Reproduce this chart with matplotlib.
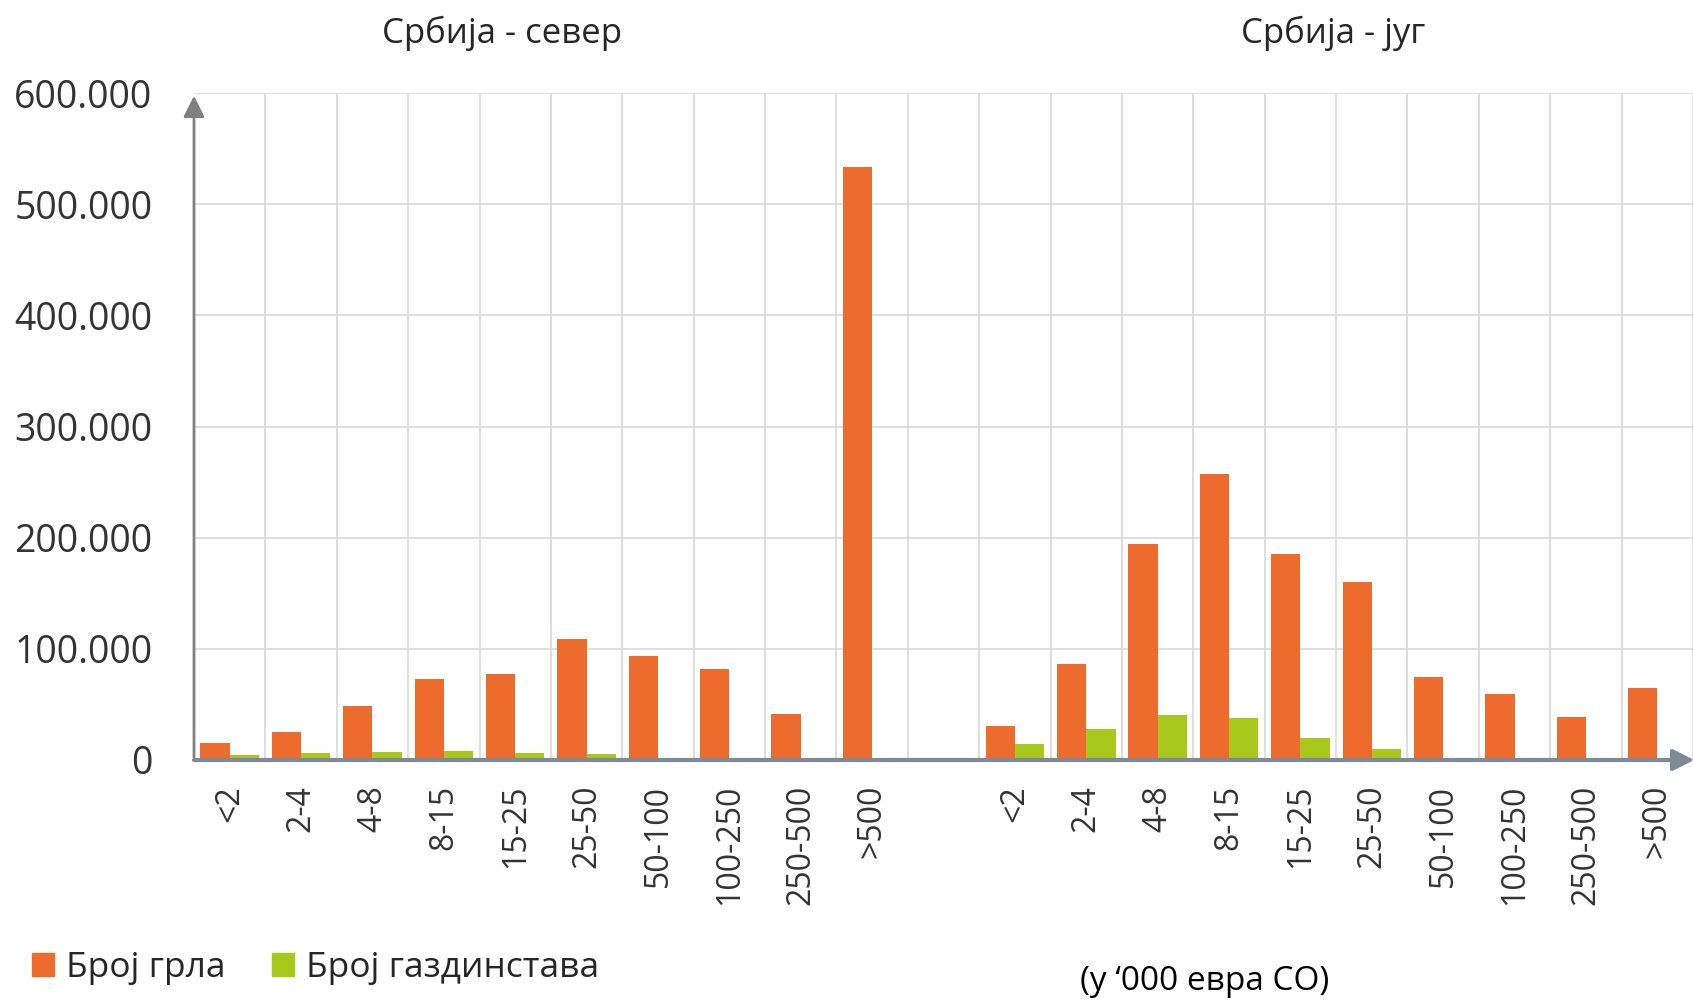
import numpy as np
import matplotlib
matplotlib.use("Agg")
import matplotlib.pyplot as plt
from matplotlib.patches import Patch
from matplotlib.ticker import FuncFormatter

# categories of economic size (thousand EUR SO)
categories = ["<2", "2-4", "4-8", "8-15", "15-25", "25-50", "50-100", "100-250", "250-500", ">500"]

# Србија - север
north_grla = [15000, 25000, 49000, 73000, 77000, 109000, 94000, 81500, 41000, 533000]
north_gazd = [4500, 6500, 7500, 8400, 6000, 5000, 1500, 800, 500, 300]

# Србија - југ
south_grla = [31000, 86000, 194000, 257000, 185000, 160500, 75000, 59000, 39000, 65000]
south_gazd = [14300, 27500, 40400, 37400, 19500, 9900, 1200, 800, 500, 300]

titles = ["Србија - север", "Србија - југ"]
legend_labels = ["Број грла", "Број газдинстава"]
unit_note = "(у \u2018000 евра СО)"

ORANGE = "#EC6B2D"
GREEN = "#A8C81C"
GRID = "#D9D9D9"
AXIS = "#808080"
TEXT = "#333333"

plt.rcParams["font.family"] = ["Open Sans", "DejaVu Sans"]

fig = plt.figure(figsize=(16.93, 10.02), dpi=100)
ax = fig.add_axes([194 / 1693, 1 - 760 / 1002, 1 - 194 / 1693, (760 - 93) / 1002])

n = len(categories)
x_north = np.arange(n)
x_south = np.arange(n) + n + 1
w = 0.41

ax.bar(x_north - w / 2, north_grla, w, color=ORANGE, zorder=3)
ax.bar(x_north + w / 2, north_gazd, w, color=GREEN, zorder=3)
ax.bar(x_south - w / 2, south_grla, w, color=ORANGE, zorder=3)
ax.bar(x_south + w / 2, south_gazd, w, color=GREEN, zorder=3)

xmax = -0.5 + (1693 - 194) / 72
ax.set_xlim(-0.5, xmax)
ax.set_ylim(0, 600000)

# ticks / grid
ax.set_xticks(np.concatenate([x_north, x_south]))
ax.set_xticklabels(categories + categories, rotation=90, fontsize=23, color=TEXT)
ax.set_xticks(np.arange(0.5, 2 * n + 1, 1.0), minor=True)
ax.set_yticks(np.arange(0, 600001, 100000))
ax.yaxis.set_major_formatter(FuncFormatter(lambda v, p: f"{int(v):,}".replace(",", ".")))
ax.tick_params(axis="y", length=0, pad=30, labelsize=27, labelcolor=TEXT)
ax.tick_params(axis="x", which="both", length=0, pad=18)
ax.grid(axis="y", which="major", color=GRID, lw=1.2, zorder=0)
ax.grid(axis="x", which="minor", color=GRID, lw=1.2, zorder=0)
ax.grid(axis="x", which="major", visible=False)
for s in ax.spines.values():
    s.set_visible(False)

# axes with arrows
ax.annotate("", xy=(-0.5, 600000), xytext=(-0.5, 0),
            arrowprops=dict(arrowstyle="-|>", color=AXIS, lw=2, mutation_scale=32),
            annotation_clip=False, zorder=5)
ax.annotate("", xy=(xmax + 0.2, 0), xytext=(-0.5, 0),
            arrowprops=dict(arrowstyle="-|>", color="#7F8A96", lw=3, mutation_scale=32,
                            shrinkA=0, shrinkB=0),
            annotation_clip=False, zorder=5)

fig.text(502 / 1693, 1 - 33 / 1002, titles[0], ha="center", va="center", fontsize=25, color="#262626")
fig.text(1333 / 1693, 1 - 33 / 1002, titles[1], ha="center", va="center", fontsize=25, color="#262626")

handles = [Patch(color=ORANGE), Patch(color=GREEN)]
fig.legend(handles, legend_labels, loc="center left", bbox_to_anchor=(0 / 1693, 1 - 968 / 1002),
           ncol=2, frameon=False, fontsize=25.5, handlelength=0.62, handleheight=0.62,
           handletextpad=0.35, columnspacing=1.3, labelcolor="#262626")

fig.text(1080 / 1693, 1 - 982 / 1002, unit_note, ha="left", va="center", fontsize=24, color="black")

fig.savefig("out.png", dpi=100)
